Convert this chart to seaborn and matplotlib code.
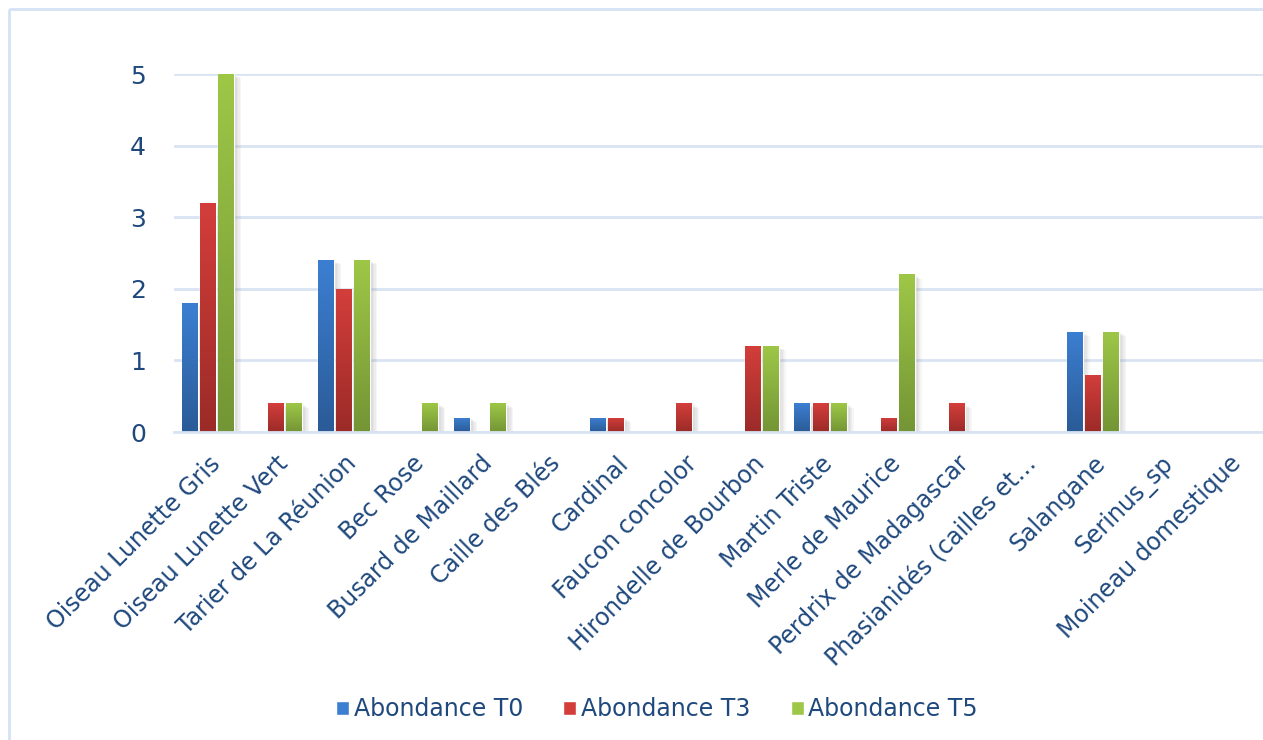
import numpy as np
import pandas as pd
import matplotlib
matplotlib.use("Agg")
import matplotlib.pyplot as plt
import matplotlib.patheffects as pe
from matplotlib.colors import LinearSegmentedColormap
from matplotlib.lines import Line2D
import seaborn as sns

# Species surveyed
especes = [
    "Oiseau Lunette Gris", "Oiseau Lunette Vert", "Tarier de La Réunion",
    "Bec Rose", "Busard de Maillard", "Caille des Blés", "Cardinal",
    "Faucon concolor", "Hirondelle de Bourbon", "Martin Triste",
    "Merle de Maurice", "Perdrix de Madagascar", "Phasianidés (cailles et…",
    "Salangane", "Serinus_sp", "Moineau domestique",
]

# Abundance per survey
abondance_t0 = [1.8, 0, 2.4, 0, 0.2, 0, 0.2, 0, 0, 0.4, 0, 0, 0, 1.4, 0, 0]
abondance_t3 = [3.2, 0.4, 2.0, 0, 0, 0, 0.2, 0.4, 1.2, 0.4, 0.2, 0.4, 0, 0.8, 0, 0]
abondance_t5 = [5.0, 0.4, 2.4, 0.4, 0.4, 0, 0, 0, 1.2, 0.4, 2.2, 0, 0, 1.4, 0, 0]

series = ["Abondance T0", "Abondance T3", "Abondance T5"]
y_ticks = [0, 1, 2, 3, 4, 5]

df = pd.DataFrame({
    "Espèce": especes * 3,
    "Série": np.repeat(series, len(especes)),
    "Abondance": abondance_t0 + abondance_t3 + abondance_t5,
})

TEXT = "#1F497D"
GRID = "#D9E4F3"
# (top colour, bottom colour) of each series gradient
shades = {
    "Abondance T0": ("#3C7FD2", "#2B5B97"),
    "Abondance T3": ("#D33E3B", "#9B2B28"),
    "Abondance T5": ("#9EC747", "#739535"),
}
palette = {k: v[0] for k, v in shades.items()}

sns.set_theme(style="white")
plt.rcParams["font.family"] = ["DejaVu Sans"]

W, H = 1263, 740
fig = plt.figure(figsize=(W / 100, H / 100), dpi=100)
fig.patch.set_facecolor("white")

# outer chart frame (top and left edges)
frame_kw = dict(transform=fig.transFigure, color="#D5E2F3", linewidth=2,
                solid_capstyle="butt")
fig.add_artist(Line2D([9 / W, 1.0], [1 - 9 / H, 1 - 9 / H], **frame_kw))
fig.add_artist(Line2D([9 / W, 9 / W], [0.0, 1 - 9 / H], **frame_kw))

left, right, bottom, top = 174, 1263, 432, 74
ax = fig.add_axes([left / W, 1 - bottom / H, (right - left) / W, (bottom - top) / H])

sns.barplot(data=df, x="Espèce", y="Abondance", hue="Série", hue_order=series,
            palette=palette, saturation=1, width=0.8, gap=0.12,
            ax=ax, legend=True)

# soft shadow built from several faint offset layers
shadow = [pe.SimplePatchShadow(offset=(d, -d * 0.6), shadow_rgbFace="#808080", alpha=0.07)
          for d in (1, 2, 3, 4, 5)]

# vertical gradient on each bar
for cont, name in zip(ax.containers, series):
    cmap = LinearSegmentedColormap.from_list(name, [shades[name][1], shades[name][0]])
    grad = np.linspace(0, 1, 256).reshape(-1, 1)
    for patch in cont.patches:
        h = patch.get_height()
        if h <= 0:
            patch.set_visible(False)
            continue
        x0 = patch.get_x()
        w = patch.get_width()
        patch.set_path_effects(shadow + [pe.Normal()])
        im = ax.imshow(grad, cmap=cmap, origin="lower", aspect="auto",
                       extent=[x0, x0 + w, 0, h], zorder=patch.get_zorder() + 0.1)
        im.set_clip_path(patch)

ax.set_xlim(-0.5, len(especes) - 0.5)
ax.set_ylim(0, 5)
ax.set_yticks(y_ticks)
ax.set_xticks(range(len(especes)))
ax.set_xticklabels(especes, rotation=45, ha="right", va="top", rotation_mode="anchor")

ax.yaxis.grid(True, color=GRID, linewidth=2)
ax.set_axisbelow(True)
for s in ["top", "right", "left"]:
    ax.spines[s].set_visible(False)
ax.spines["bottom"].set_color(GRID)
ax.spines["bottom"].set_linewidth(2)
ax.set_xlabel("")
ax.set_ylabel("")
ax.tick_params(axis="y", length=0, pad=20, labelsize=18, labelcolor=TEXT)
ax.tick_params(axis="x", length=0, pad=14, labelsize=17, labelcolor=TEXT)

handles, labels = ax.get_legend_handles_labels()
ax.get_legend().remove()
leg = fig.legend(handles, labels, loc="center", bbox_to_anchor=(657 / W, 1 - 709 / H),
                 ncol=3, frameon=False, fontsize=17, handlelength=0.55, handleheight=0.55,
                 handletextpad=0.2, columnspacing=1.7, labelcolor=TEXT)

fig.savefig("out.png", dpi=100)
